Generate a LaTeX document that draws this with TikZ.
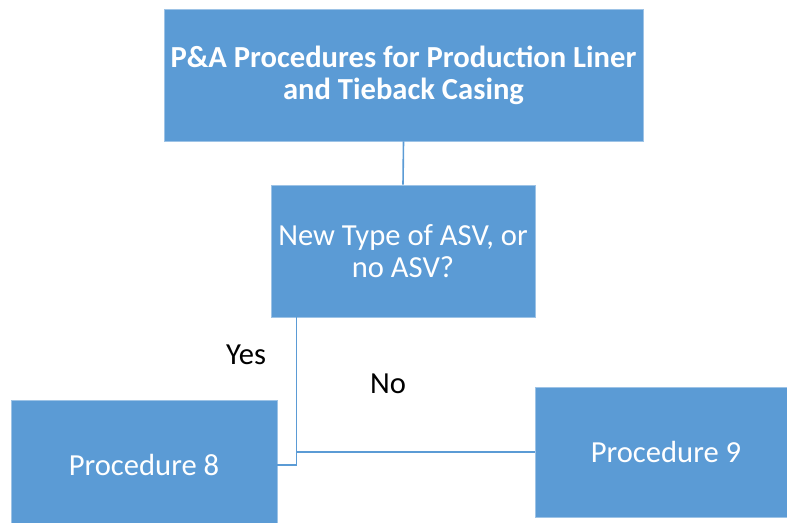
\documentclass[tikz,border=0pt]{standalone}
\usepackage{fontspec}
\setmainfont{Carlito}
\usepackage{xcolor}
\usepackage{tikz}
\usetikzlibrary{positioning}
\definecolor{boxblue}{RGB}{91,155,213}
\definecolor{edgeblue}{RGB}{157,195,230}

\begin{document}
\begin{tikzpicture}[x=1pt,y=-1pt,
  box/.style={rectangle,draw=edgeblue,line width=0.8pt,fill=boxblue,text=white,
    align=center,inner sep=0pt,font=\fontsize{30.6}{32}\selectfont},
  link/.style={draw=boxblue,line width=1.6pt},
  answer/.style={text=black,font=\fontsize{30.6}{32}\selectfont}]
  \useasboundingbox (0,0) rectangle (787,522);
  \node[box,minimum width=479pt,minimum height=132pt,font=\fontsize{30.6}{32}\selectfont\bfseries]
    (top) at (403.5,75) {P\&A Procedures for Production Liner\\and Tieback Casing};
  \node[box,minimum width=264pt,minimum height=132pt] (asv) at (403,251) {New Type of ASV, or\\no ASV?};
  \node[box,minimum width=266pt,minimum height=130pt] (proc8) at (144,465) {Procedure 8};
  \node[box,minimum width=262pt,minimum height=130pt] (proc9) at (666,452) {Procedure 9};
  \node[answer] (yes) at (246,355) {Yes};
  \node[answer] (no) at (388,384) {No};

  \coordinate (turn) at ([xshift=26pt]asv.south west);
  \draw[link] (top.south) -- (asv.north);
  \draw[link] (turn) |- (proc8.east);
  \draw[link] (proc9.west) -- (proc9.west -| turn);
\end{tikzpicture}
\end{document}
